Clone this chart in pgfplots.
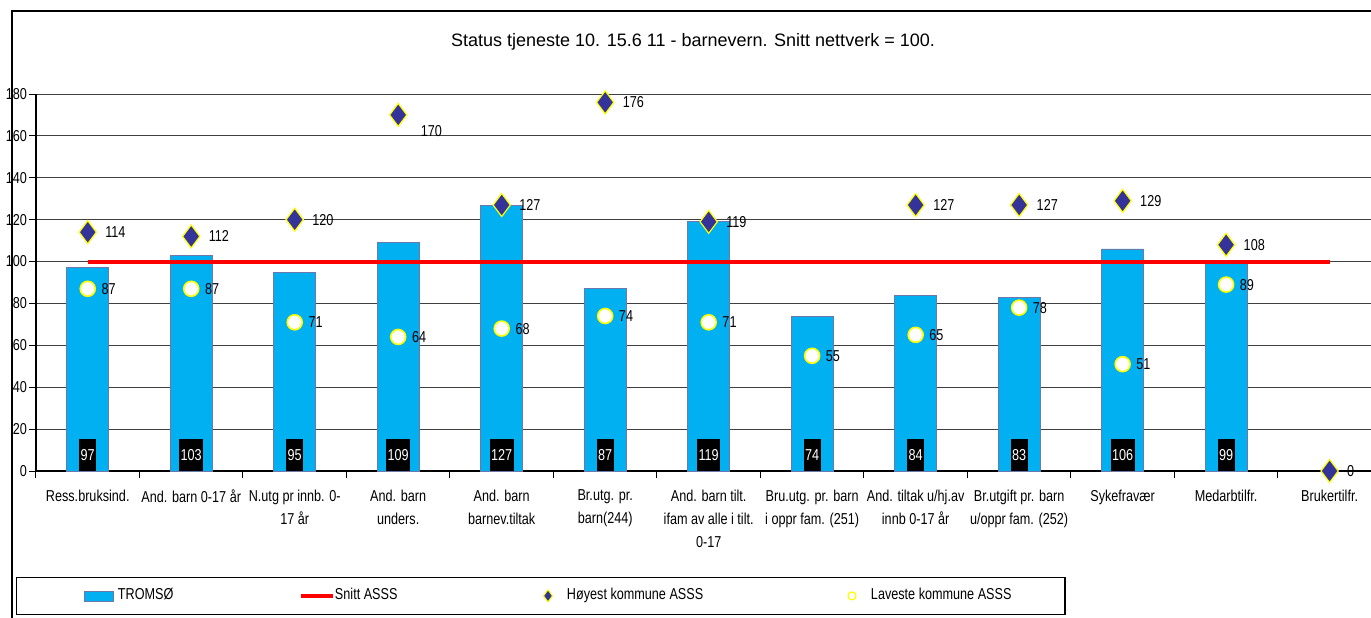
\documentclass[border=0pt]{standalone}
\usepackage{fontspec}
\setmainfont{Liberation Sans}[FakeStretch=0.8]
\newfontfamily\titlefont{Liberation Sans}
\usepackage{pgfplots}
\pgfplotsset{compat=1.18}
\definecolor{barblue}{RGB}{0,176,240}
\definecolor{baredge}{RGB}{110,120,170}
\definecolor{dkblue}{RGB}{51,51,153}
\definecolor{ylw}{RGB}{255,255,0}
\newcommand{\fs}{\fontsize{7.9}{11.5}\selectfont}
\begin{document}
\begin{tikzpicture}
\useasboundingbox (0,0) rectangle (685.5pt,308.5pt);
\draw[line width=0.6pt] (6pt,-1pt) -- (6pt,303pt) -- (690pt,303pt);
\begin{axis}[
  at={(18pt,73pt)}, anchor=south west,
  scale only axis, width=667.5pt, height=188.5pt,
  xmin=-0.5, xmax=12.4, ymin=0, ymax=180,
  axis lines*=left,
  axis line style={line width=0.6pt},
  ytick={0,20,...,180},
  ymajorgrids, grid style={black!75, line width=0.5pt},
  ytick align=outside, xtick align=outside,
  major tick length=3.5pt,
  tick style={black, line width=0.5pt},
  xtick={-0.5,0.5,...,12.5}, xticklabels={},
  extra x ticks={0,1,...,12},
  extra x tick labels={Ress.bruksind., And. barn 0-17 år, {N.utg pr innb. 0-\\17 år}, {And. barn\\unders.}, {And. barn\\barnev.tiltak}, {Br.utg. pr.\\barn(244)}, {And. barn tilt.\\ifam av alle i tilt.\\0-17}, {Bru.utg. pr. barn\\i oppr fam. (251)}, {And. tiltak u/hj.av\\innb 0-17 år}, {Br.utgift pr. barn\\u/oppr fam. (252)}, Sykefravær, Medarbtilfr., Brukertilfr.},
  extra x tick style={major tick length=0pt, xticklabel style={align=center, font=\fs, yshift=-6pt}},
  yticklabel style={font=\fs, xshift=2.5pt},
  /pgf/number format/assume math mode=true,
  every axis title shift=0pt,
  title={Status tjeneste 10. 15.6 11 - barnevern. Snitt nettverk = 100.},
  title style={at={(axis description cs:0.4921,1.1379)}, anchor=center, font=\titlefont\fontsize{9}{11}\selectfont},
  legend columns=4,
  legend cell align=left,
  legend style={at={(axis description cs:-0.01498,-0.38196)}, anchor=south west, draw=black, line width=0.6pt,
    inner xsep=33.5pt, inner ysep=5.75pt, font=\fs, column sep=0pt,
    nodes={inner sep=0pt, text height=5.5pt, text depth=1.5pt}},
]
\addplot[ybar, bar width=21pt, fill=barblue, draw=baredge, line width=0.4pt,
  legend image code/.code={\draw[fill=barblue, draw=baredge, line width=0.4pt] (0pt,-2.5pt) rectangle (14.5pt,2.5pt); \path[draw=none,fill=none] (17pt,0pt);}]
  coordinates {(0,97) (1,103) (2,95) (3,109) (4,127) (5,87) (6,119) (7,74) (8,84) (9,83) (10,106) (11,99)};
\addlegendentry{\makebox[90.5pt][l]{TROMSØ}}
\addplot[red, line width=2pt, mark=none,
  legend image code/.code={\draw[red, line width=2pt] (0pt,0pt) -- (16pt,0pt); \path[draw=none,fill=none] (16.5pt,0pt);}]
  coordinates {(0,100) (1,100) (2,100) (3,100) (4,100) (5,100) (6,100) (7,100) (8,100) (9,100) (10,100) (11,100) (12,100)};
\addlegendentry{\makebox[102.5pt][l]{Snitt ASSS}}
\addplot[only marks, mark=diamond*, mark size=5.75pt, mark options={fill=dkblue, draw=ylw, line width=0.6pt},
  nodes near coords, every node near coord/.append style={anchor=west, xshift=8.5pt, inner sep=0pt, font=\fs, text=black},
  coordinate style/.condition={\coordindex==3}{xshift=2.5pt, yshift=-8pt},
  legend image code/.code={\path[draw=none,fill=none] (0pt,-3pt) rectangle (13.5pt,3pt); \path[draw=none,fill=none,mark=diamond*, mark size=3pt, mark options={fill=dkblue, draw=ylw, line width=0.5pt}] plot coordinates {(4pt,0pt)};}]
  coordinates {(0,114) (1,112) (2,120) (3,170) (4,127) (5,176) (6,119) (8,127) (9,127) (10,129) (11,108) (12,0)};
\addlegendentry{\makebox[138.5pt][l]{Høyest kommune ASSS}}
\addplot[only marks, mark=*, mark size=3.75pt, mark options={fill=white, draw=ylw, line width=0.8pt},
  nodes near coords, every node near coord/.append style={anchor=west, xshift=6.5pt, inner sep=0pt, font=\fs, text=black},
  legend image code/.code={\path[draw=none,fill=none] (0pt,-3pt) rectangle (13.5pt,3pt); \path[draw=none,fill=none,mark=*, mark size=2pt, mark options={fill=white, draw=ylw, line width=0.6pt}] plot coordinates {(4pt,0pt)};}]
  coordinates {(0,87) (1,87) (2,71) (3,64) (4,68) (5,74) (6,71) (7,55) (8,65) (9,78) (10,51) (11,89)};
\addlegendentry{\makebox[63.5pt][l]{Laveste kommune ASSS}}
\addplot[draw=none, mark=none, forget plot, point meta=explicit,
  nodes near coords, every node near coord/.append style={anchor=south, fill=black, text=white, inner xsep=0.7pt, inner ysep=0pt, minimum height=16pt, font=\fs}]
  coordinates {(0,0) [97] (1,0) [103] (2,0) [95] (3,0) [109] (4,0) [127] (5,0) [87] (6,0) [119] (7,0) [74] (8,0) [84] (9,0) [83] (10,0) [106] (11,0) [99]};
\end{axis}
\end{tikzpicture}
\end{document}
